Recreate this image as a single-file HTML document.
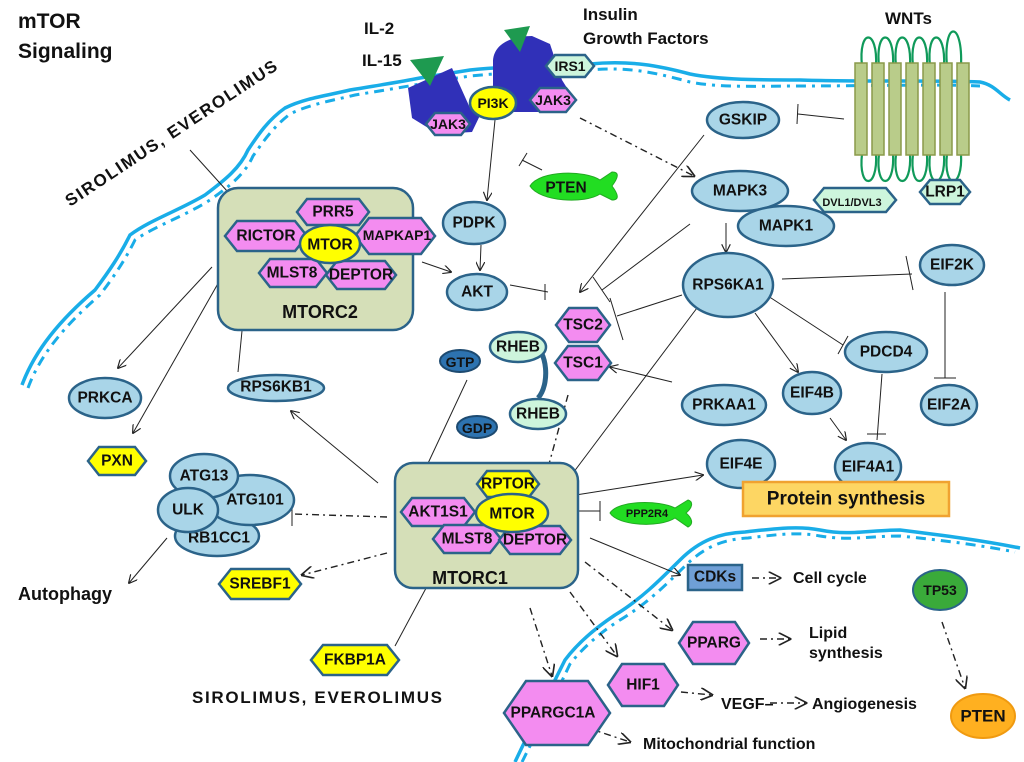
<!DOCTYPE html>
<html><head><meta charset="utf-8"><style>
html,body{margin:0;padding:0;background:#fff;}
svg{display:block;font-family:"Liberation Sans",Arial,sans-serif;}
.t{font-weight:bold;font-size:15.5px;fill:#111;text-anchor:middle;dominant-baseline:central;}
.lb{font-weight:bold;font-size:16px;fill:#111;}
.e{fill:#a9d5e8;stroke:#2b6389;stroke-width:2.5;}
.p{fill:#f38cf0;stroke:#2b6389;stroke-width:2.5;}
.y{fill:#ffff00;stroke:#2b6389;stroke-width:2.5;}
.g{fill:#cdf5dc;stroke:#2b6389;stroke-width:2.5;}
.l{stroke:#222;stroke-width:1;fill:none;}
.d{stroke:#222;stroke-width:1.4;fill:none;stroke-dasharray:7 4 2 4;}
.m{stroke:#19ade8;stroke-width:3.5;fill:none;}
.md{stroke:#19ade8;stroke-width:3;fill:none;stroke-dasharray:10 6 3 6;}
</style></head><body>
<svg width="1024" height="762" viewBox="0 0 1024 762" xmlns="http://www.w3.org/2000/svg">
<defs>
<marker id="a" viewBox="0 0 10 10" refX="9" refY="5" markerWidth="9" markerHeight="9" orient="auto"><path d="M0,0 L10,5 L0,10" fill="none" stroke="#222" stroke-width="1.3"/></marker>
</defs>
<!-- membranes -->
<path class="m" d="M22,385 C35,350 60,320 95,290 C110,270 120,255 130,235 C150,220 180,210 205,195 C225,180 240,168 248,150 C258,135 268,120 285,108 C305,98 330,95 350,90 C380,85 400,82 420,78 L470,70 C520,65 560,66 590,64 C630,60 660,66 690,74 C720,80 760,80 800,80 C860,82 940,80 980,82 C995,85 1000,95 1010,100"/>
<path class="md" d="M28,388 C40,355 65,325 100,295 C115,275 125,260 135,240 C155,226 185,216 210,200 C230,186 245,174 253,156 C263,142 273,127 290,114 C310,104 335,100 355,95 C385,90 405,87 425,83 L470,76 C520,71 560,72 590,70 C630,66 660,74 690,82 C720,88 760,86 800,86 C860,86 940,84 980,86"/>
<path class="m" d="M515,762 C530,730 545,700 565,660 C580,640 600,625 615,615 C640,600 660,580 680,560 C700,540 720,533 745,532 C780,528 800,526 820,530 C850,536 870,530 900,530 C940,535 980,540 1020,548"/>
<path class="md" d="M522,762 C537,732 552,702 570,664 C585,645 604,630 620,620 C645,605 665,586 685,566 C705,546 725,539 748,538 C780,534 800,532 820,536 C850,541 870,536 900,536 C940,540 980,545 1015,552"/>

<!-- title -->
<text x="18" y="28" style="font-weight:bold;font-size:21px;fill:#111">mTOR</text>
<text x="18" y="58" style="font-weight:bold;font-size:21px;fill:#111">Signaling</text>
<text x="364" y="34" style="font-weight:bold;font-size:17px;fill:#111">IL-2</text>
<text x="362" y="66" style="font-weight:bold;font-size:17px;fill:#111">IL-15</text>
<text x="583" y="20" style="font-weight:bold;font-size:17px;fill:#111">Insulin</text>
<text x="583" y="44" style="font-weight:bold;font-size:17px;fill:#111">Growth Factors</text>
<text x="885" y="24" style="font-weight:bold;font-size:17px;fill:#111">WNTs</text>
<text transform="translate(70,207) rotate(-33.5)" textLength="250" style="font-weight:bold;font-size:17px;fill:#111">SIROLIMUS, EVEROLIMUS</text>
<text x="192" y="703" textLength="250" style="font-weight:bold;font-size:17px;fill:#111">SIROLIMUS, EVEROLIMUS</text>
<text x="18" y="600" style="font-weight:bold;font-size:18px;fill:#111">Autophagy</text>

<!-- connectors -->
<line class="l" x1="190" y1="150" x2="237" y2="202"/><line class="l" x1="228" y1="212" x2="246" y2="200"/>
<line class="l" x1="212" y1="267" x2="118" y2="368" marker-end="url(#a)"/>
<line class="l" x1="220" y1="280" x2="133" y2="433" marker-end="url(#a)"/>
<line class="l" x1="238" y1="372" x2="245" y2="300"/><line class="l" x1="227" y1="298" x2="266" y2="300"/>
<line class="l" x1="422" y1="262" x2="451" y2="272" marker-end="url(#a)"/>
<line class="l" x1="495" y1="120" x2="487" y2="200" marker-end="url(#a)"/>
<line class="l" x1="481" y1="245" x2="480" y2="270" marker-end="url(#a)"/>
<line class="l" x1="542" y1="170" x2="522" y2="160" stroke-width="1.5"/><line class="l" x1="519" y1="166" x2="527" y2="153" stroke-width="1.5"/>
<line class="d" x1="580" y1="118" x2="694" y2="176" marker-end="url(#a)"/>
<line class="l" x1="510" y1="285" x2="548" y2="292" stroke-width="1.5"/><line class="l" x1="545" y1="284" x2="545" y2="300" stroke-width="1.5"/>
<line class="l" x1="704" y1="135" x2="580" y2="292" marker-end="url(#a)"/>
<line class="l" x1="690" y1="224" x2="602" y2="290"/><line class="l" x1="593" y1="277" x2="610" y2="302"/>
<line class="l" x1="682" y1="295" x2="617" y2="316"/><line class="l" x1="610" y1="298" x2="623" y2="340"/>
<line class="l" x1="726" y1="223" x2="726" y2="252" marker-end="url(#a)"/>
<line class="l" x1="782" y1="279" x2="912" y2="274"/><line class="l" x1="906" y1="256" x2="913" y2="290"/>
<line class="l" x1="945" y1="292" x2="945" y2="378" stroke-width="1.5"/><line class="l" x1="934" y1="378" x2="956" y2="378" stroke-width="1.5"/>
<line class="l" x1="768" y1="296" x2="843" y2="345" stroke-width="1.3"/><line class="l" x1="848" y1="336" x2="838" y2="354" stroke-width="1.3"/>
<line class="l" x1="755" y1="313" x2="798" y2="372" marker-end="url(#a)"/>
<line class="l" x1="882" y1="374" x2="877" y2="440"/><line class="l" x1="867" y1="434" x2="886" y2="434"/>
<line class="l" x1="830" y1="418" x2="846" y2="440" marker-end="url(#a)"/>
<line class="l" x1="672" y1="382" x2="610" y2="367" marker-end="url(#a)"/>
<line class="l" x1="555" y1="497" x2="703" y2="300" marker-end="url(#a)"/>
<line class="d" x1="568" y1="395" x2="546" y2="475" marker-end="url(#a)"/>
<line class="l" x1="467" y1="380" x2="423" y2="474" marker-end="url(#a)"/>
<line class="l" x1="378" y1="483" x2="291" y2="411" marker-end="url(#a)"/>
<line class="d" x1="387" y1="517" x2="293" y2="514"/><line class="l" x1="292" y1="504" x2="292" y2="526"/>
<line class="d" x1="387" y1="553" x2="302" y2="575" marker-end="url(#a)"/>
<line class="l" x1="395" y1="646" x2="432" y2="577"/><line class="l" x1="414" y1="570" x2="443" y2="582"/>
<line class="l" x1="167" y1="538" x2="129" y2="583" marker-end="url(#a)"/>
<line class="l" x1="563" y1="497" x2="703" y2="475" marker-end="url(#a)"/>
<line class="l" x1="563" y1="511" x2="600" y2="511" stroke-width="1.5"/><line class="l" x1="600" y1="501" x2="600" y2="521" stroke-width="1.5"/>
<line class="l" x1="590" y1="538" x2="680" y2="575" marker-end="url(#a)"/>
<line class="d" x1="752" y1="578" x2="780" y2="578" marker-end="url(#a)"/>
<line class="d" x1="585" y1="562" x2="672" y2="630" marker-end="url(#a)"/>
<line class="d" x1="570" y1="592" x2="617" y2="656" marker-end="url(#a)"/>
<line class="d" x1="530" y1="608" x2="552" y2="676" marker-end="url(#a)"/>
<line class="d" x1="760" y1="639" x2="790" y2="639" marker-end="url(#a)"/>
<line class="d" x1="681" y1="692" x2="712" y2="695" marker-end="url(#a)"/>
<line class="d" x1="770" y1="703" x2="806" y2="703" marker-end="url(#a)"/>
<line class="d" x1="588" y1="728" x2="630" y2="742" marker-end="url(#a)"/>
<line class="d" x1="942" y1="622" x2="965" y2="688" marker-end="url(#a)"/>
<line class="l" x1="844" y1="119" x2="798" y2="114" stroke-width="1.5"/><line class="l" x1="798" y1="104" x2="797" y2="124" stroke-width="1.5"/>

<!-- receptors -->
<path d="M408,88 L452,68 L470,108 L485,105 L472,132 L438,134 L412,118 Z" fill="#3030b8"/>
<path d="M493,62 C493,45 510,36 532,36 L550,44 L562,80 L572,96 L542,112 L505,112 L493,88 Z" fill="#3030b8"/>
<polygon points="410,60 444,56 430,86" fill="#1e9a50"/>
<polygon points="504,30 530,26 520,52" fill="#1e9a50"/>
<polygon class="p" points="426,124 435,113 461,113 470,124 461,135 435,135"/><text class="t" x="448" y="124" style="font-size:14px">JAK3</text>
<polygon class="p" points="530,100 540,88 566,88 576,100 566,112 540,112"/><text class="t" x="553" y="100" style="font-size:14px">JAK3</text>
<polygon class="g" points="546,66 555,55 585,55 594,66 585,77 555,77"/><text class="t" x="570" y="66" style="font-size:14px">IRS1</text>
<ellipse class="y" cx="493" cy="103" rx="23" ry="16"/><text class="t" x="493" y="103" style="font-size:14px">PI3K</text>

<!-- WNT receptor -->
<g fill="none" stroke="#109a5a" stroke-width="2.2">
<path d="M862,66 C858,28 878,28 876,66"/><path d="M879,66 C875,28 895,28 893,66"/><path d="M896,66 C892,28 912,28 910,66"/><path d="M913,66 C909,28 929,28 927,66"/><path d="M930,66 C926,28 946,28 944,66"/><path d="M947,66 C943,20 963,20 961,66"/>
<path d="M862,154 C858,190 878,190 876,154"/><path d="M879,154 C875,190 895,190 893,154"/><path d="M896,154 C892,190 912,190 910,154"/><path d="M913,154 C909,190 929,190 927,154"/><path d="M930,154 C926,190 946,190 944,154"/><path d="M947,154 C943,190 963,190 961,154"/>
</g>
<g fill="#b9cc8a" stroke="#8a9a4a" stroke-width="1.5">
<rect x="855" y="63" width="12" height="92"/><rect x="872" y="63" width="12" height="92"/><rect x="889" y="63" width="12" height="92"/><rect x="906" y="63" width="12" height="92"/><rect x="923" y="63" width="12" height="92"/><rect x="940" y="63" width="12" height="92"/><rect x="957" y="63" width="12" height="92"/>
</g>
<polygon class="g" points="814,200 824,188 886,188 896,200 886,212 824,212"/><text class="t" x="852" y="203" style="font-size:11px">DVL1/DVL3</text>
<polygon class="g" points="920,192 930,180 960,180 970,192 960,204 930,204"/><text class="t" x="945" y="192">LRP1</text>

<!-- ellipses -->
<ellipse class="e" cx="743" cy="120" rx="36" ry="18"/><text class="t" x="743" y="120">GSKIP</text>
<ellipse class="e" cx="740" cy="191" rx="48" ry="20"/><text class="t" x="740" y="191">MAPK3</text>
<ellipse class="e" cx="786" cy="226" rx="48" ry="20"/><text class="t" x="786" y="226">MAPK1</text>
<ellipse class="e" cx="728" cy="285" rx="45" ry="32"/><text class="t" x="728" y="285">RPS6KA1</text>
<ellipse class="e" cx="952" cy="265" rx="32" ry="20"/><text class="t" x="952" y="265">EIF2K</text>
<ellipse class="e" cx="886" cy="352" rx="41" ry="20"/><text class="t" x="886" y="352">PDCD4</text>
<ellipse class="e" cx="949" cy="405" rx="28" ry="20"/><text class="t" x="949" y="405">EIF2A</text>
<ellipse class="e" cx="812" cy="393" rx="29" ry="21"/><text class="t" x="812" y="393">EIF4B</text>
<ellipse class="e" cx="724" cy="405" rx="42" ry="20"/><text class="t" x="724" y="405">PRKAA1</text>
<ellipse class="e" cx="741" cy="464" rx="34" ry="24"/><text class="t" x="741" y="464">EIF4E</text>
<ellipse class="e" cx="868" cy="467" rx="33" ry="24"/><text class="t" x="868" y="467">EIF4A1</text>
<rect x="743" y="482" width="206" height="34" fill="#fdd663" stroke="#f0a230" stroke-width="2.5"/>
<text class="t" x="846" y="499" style="font-size:19px">Protein synthesis</text>
<ellipse class="e" cx="474" cy="223" rx="31" ry="21"/><text class="t" x="474" y="223">PDPK</text>
<ellipse class="e" cx="477" cy="292" rx="30" ry="18"/><text class="t" x="477" y="292">AKT</text>
<ellipse class="e" cx="105" cy="398" rx="36" ry="20"/><text class="t" x="105" y="398">PRKCA</text>
<ellipse class="e" cx="276" cy="388" rx="48" ry="13"/><text class="t" x="276" y="387">RPS6KB1</text>

<!-- PTEN fish -->
<path d="M530,186 C540,170 585,170 600,180 L612,172 C620,172 618,178 612,186 C618,194 620,200 612,200 L600,194 C585,204 540,202 530,186 Z" fill="#22dd22" stroke="#22aa22" stroke-width="1"/>
<text class="t" x="566" y="188">PTEN</text>
<!-- PPP2R4 fish -->
<path d="M610,513 C618,500 660,500 675,508 L688,500 C694,502 692,508 686,513 C692,518 694,524 688,527 L675,518 C660,528 618,526 610,513 Z" fill="#22dd22" stroke="#22aa22" stroke-width="1"/>
<text class="t" x="647" y="514" style="font-size:11px">PPP2R4</text>

<!-- TSC -->
<polygon class="p" points="556,325 569,308 597,308 610,325 597,342 569,342"/><text class="t" x="583" y="325">TSC2</text>
<polygon class="p" points="555,363 568,346 598,346 611,363 598,380 568,380"/><text class="t" x="583" y="363">TSC1</text>

<!-- RHEB -->
<path d="M532,343 C548,350 550,385 538,398" fill="none" stroke="#2b6389" stroke-width="5"/>
<ellipse cx="460" cy="361" rx="20" ry="11" fill="#2d73b0" stroke="#1d4a70" stroke-width="2"/><text class="t" x="460" y="362" style="font-size:14px">GTP</text>
<ellipse class="g" cx="518" cy="347" rx="28" ry="15"/><text class="t" x="518" y="347">RHEB</text>
<ellipse cx="477" cy="427" rx="20" ry="11" fill="#2d73b0" stroke="#1d4a70" stroke-width="2"/><text class="t" x="477" y="428" style="font-size:14px">GDP</text>
<ellipse class="g" cx="538" cy="414" rx="28" ry="15"/><text class="t" x="538" y="414">RHEB</text>

<!-- MTORC2 -->
<rect x="218" y="188" width="195" height="142" rx="20" fill="#d5dfb8" stroke="#2b6389" stroke-width="2.5"/>
<polygon class="p" points="225,236 237,221 295,221 307,236 295,251 237,251"/><text class="t" x="266" y="236">RICTOR</text>
<polygon class="p" points="355,236 369,218 421,218 435,236 421,254 369,254"/><text class="t" x="397" y="235" style="font-size:14px">MAPKAP1</text>
<polygon class="p" points="297,212 307,199 359,199 369,212 359,225 307,225"/><text class="t" x="333" y="212">PRR5</text>
<polygon class="p" points="259,273 270,259 316,259 327,273 316,287 270,287"/><text class="t" x="292" y="273">MLST8</text>
<polygon class="p" points="326,275 337,261 385,261 396,275 385,289 337,289"/><text class="t" x="361" y="275">DEPTOR</text>
<ellipse class="y" cx="330" cy="244" rx="30" ry="19"/><text class="t" x="330" y="245">MTOR</text>
<text class="t" x="320" y="312" style="font-size:18px">MTORC2</text>

<!-- MTORC1 -->
<rect x="395" y="463" width="183" height="125" rx="18" fill="#d5dfb8" stroke="#2b6389" stroke-width="2.5"/>
<polygon class="y" points="477,484 487,471 529,471 539,484 529,497 487,497"/><text class="t" x="508" y="484">RPTOR</text>
<polygon class="p" points="401,512 412,498 464,498 475,512 464,526 412,526"/><text class="t" x="438" y="512">AKT1S1</text>
<polygon class="p" points="433,539 444,525 490,525 501,539 490,553 444,553"/><text class="t" x="467" y="539">MLST8</text>
<polygon class="p" points="499,540 510,526 560,526 571,540 560,554 510,554"/><text class="t" x="535" y="540">DEPTOR</text>
<ellipse class="y" cx="512" cy="513" rx="36" ry="19"/><text class="t" x="512" y="514">MTOR</text>
<text class="t" x="470" y="578" style="font-size:18px">MTORC1</text>

<!-- left cluster -->
<polygon class="y" points="88,461 99,447 135,447 146,461 135,475 99,475"/><text class="t" x="117" y="461">PXN</text>
<ellipse class="e" cx="217" cy="536" rx="42" ry="20"/><text class="t" x="219" y="538">RB1CC1</text>
<ellipse class="e" cx="250" cy="500" rx="44" ry="25"/><text class="t" x="255" y="500">ATG101</text>
<ellipse class="e" cx="204" cy="476" rx="34" ry="22"/><text class="t" x="204" y="476">ATG13</text>
<ellipse class="e" cx="188" cy="510" rx="30" ry="22"/><text class="t" x="188" y="510">ULK</text>
<polygon class="y" points="219,584 231,569 289,569 301,584 289,599 231,599"/><text class="t" x="260" y="584">SREBF1</text>
<polygon class="y" points="311,660 323,645 387,645 399,660 387,675 323,675"/><text class="t" x="355" y="660">FKBP1A</text>

<!-- bottom right -->
<rect x="688" y="565" width="54" height="25" fill="#6f9fd6" stroke="#2b6389" stroke-width="2.5"/><text class="t" x="715" y="577">CDKs</text>
<text x="793" y="583" class="lb">Cell cycle</text>
<polygon class="p" points="679,643 693,622 735,622 749,643 735,664 693,664"/><text class="t" x="714" y="643">PPARG</text>
<text x="809" y="638" class="lb">Lipid</text>
<text x="809" y="658" class="lb">synthesis</text>
<polygon class="p" points="608,685 622,664 664,664 678,685 664,706 622,706"/><text class="t" x="643" y="685">HIF1</text>
<text x="721" y="709" class="lb">VEGF–</text>
<text x="812" y="709" class="lb">Angiogenesis</text>
<polygon class="p" points="504,713 526,681 588,681 610,713 588,745 526,745"/><text class="t" x="553" y="713">PPARGC1A</text>
<text x="643" y="749" class="lb">Mitochondrial  function</text>
<ellipse cx="940" cy="590" rx="27" ry="20" fill="#3aaa3a" stroke="#2b6389" stroke-width="2"/><text class="t" x="940" y="590" style="font-size:14px">TP53</text>
<ellipse cx="983" cy="716" rx="32" ry="22" fill="#ffb020" stroke="#f09a10" stroke-width="2"/><text class="t" x="983" y="716" style="font-size:17px">PTEN</text>
</svg>
</body></html>
